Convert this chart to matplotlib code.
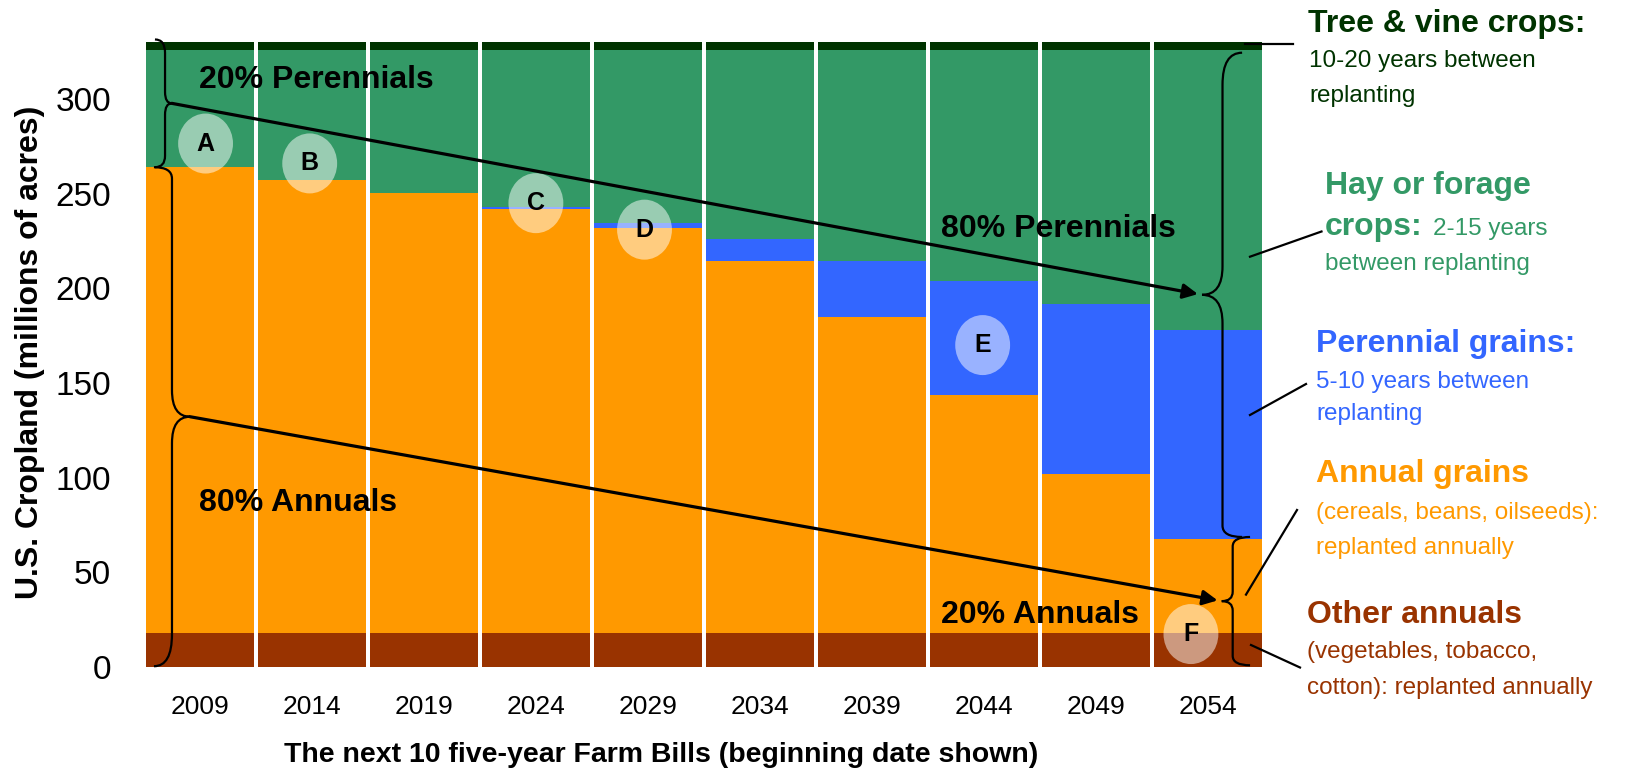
import numpy as np
import matplotlib
matplotlib.use("Agg")
import matplotlib.pyplot as plt
from matplotlib.patches import Ellipse, PathPatch
from matplotlib.path import Path
from matplotlib.lines import Line2D

plt.rcParams['font.family'] = ['Liberation Sans', 'DejaVu Sans']

# ---------------- DATOS (millones de acres) ----------------
years = [2009, 2014, 2019, 2024, 2029, 2034, 2039, 2044, 2049, 2054]
other_annuals = [18, 18, 18, 18, 18, 18, 18, 18, 18, 18]
annual_grains = [246, 239.5, 232.3, 223.7, 213.8, 196.6, 167, 125.4, 84, 49.6]
perennial_grains = [0, 0, 0, 1.1, 2.7, 11.3, 29.6, 60.3, 89.6, 110.4]
hay_forage = [62, 68.5, 75.7, 83.2, 91.5, 100.1, 111.4, 122.3, 134.4, 148]
tree_vine = [4, 4, 4, 4, 4, 4, 4, 4, 4, 4]

series = [other_annuals, annual_grains, perennial_grains, hay_forage, tree_vine]
colors = ['#993300', '#FF9900', '#3366FF', '#339966', '#003300']

# etiquetas en circulos: (letra, barra, valor)
marks = [('A', 0.05, 276.5), ('B', 0.98, 266), ('C', 3.0, 245),
         ('D', 3.97, 231), ('E', 6.99, 170), ('F', 8.85, 17.3)]

W, H = 1626, 768
fig = plt.figure(figsize=(W / 100, H / 100), dpi=100)
ax = fig.add_axes([146 / W, 1 - 666.8 / H, (1261.7 - 146) / W, (666.8 - 42.3) / H])

x = np.arange(len(years))
bottom = np.zeros(len(years))
for vals, c in zip(series, colors):
    ax.bar(x, vals, width=0.9646, bottom=bottom, color=c, edgecolor='none', zorder=1)
    bottom += np.array(vals)

ax.set_xlim(-0.482, 9.482)
ax.set_ylim(0, 330)
ax.set_yticks(range(0, 301, 50))
ax.set_xticks(x)
ax.set_xticklabels([str(y) for y in years])
ax.tick_params(axis='y', length=0, pad=25, labelsize=24)
ax.tick_params(axis='x', length=0, pad=20, labelsize=19)
for s in ax.spines.values():
    s.set_visible(False)


# ---------------- LLAVES ----------------
def llave(x_end, x_mid, x_tip, y_top, y_bot, r_top, r_tip, r_bot):
    y_tip = (y_top + y_bot) / 2
    verts = [(x_end, y_top), (x_mid, y_top), (x_mid, y_top - r_top),
             (x_mid, y_tip + r_tip), (x_mid, y_tip), (x_tip, y_tip),
             (x_mid, y_tip), (x_mid, y_tip - r_tip),
             (x_mid, y_bot + r_bot), (x_mid, y_bot), (x_end, y_bot)]
    codes = [Path.MOVETO, Path.CURVE3, Path.CURVE3, Path.LINETO,
             Path.CURVE3, Path.CURVE3, Path.CURVE3, Path.CURVE3,
             Path.LINETO, Path.CURVE3, Path.CURVE3]
    ax.add_patch(PathPatch(Path(verts, codes), fill=False, lw=1.6,
                           color='black', clip_on=False, zorder=4))
    return x_tip, y_tip


total0 = sum(s[0] for s in series)
ann0 = other_annuals[0] + annual_grains[0]
ann9 = other_annuals[-1] + annual_grains[-1]
per9 = ann9 + perennial_grains[-1] + hay_forage[-1]

t1 = llave(-0.402, -0.312, -0.252, total0 + 1.5, ann0, 7, 6, 6)
t2 = llave(-0.411, -0.250, -0.089, ann0, 0.3, 6, 14, 17)
t3 = llave(9.307, 9.132, 8.949, per9 - 1.5, ann9 + 1, 17, 15, 6)
t4 = llave(9.378, 9.223, 9.125, ann9 + 1, 0.8, 5, 5, 5)

for a, b in [(t1, t3), (t2, t4)]:
    ax.annotate('', xy=b, xytext=a,
                arrowprops=dict(arrowstyle='-|>', lw=2.3, color='black',
                                mutation_scale=22, shrinkA=0, shrinkB=3),
                annotation_clip=False, zorder=5)

# ---------------- CIRCULOS ----------------
for letra, cx, cy in marks:
    ax.add_patch(Ellipse((cx, cy), 0.49, 31.7, facecolor='white', alpha=0.5,
                         edgecolor='none', zorder=3, clip_on=False))
    ax.text(cx, cy, letra, ha='center', va='center', fontsize=18,
            fontweight='bold', zorder=6)

# ---------------- TEXTOS ----------------
def ftxt(px, py, s, **kw):
    fig.text(px / W, 1 - py / H, s, va='baseline', ha='left', **kw)


ftxt(199, 88, '20% Perennials', fontsize=23, fontweight='bold')
ftxt(199, 511, '80% Annuals', fontsize=23, fontweight='bold')
ftxt(941, 237, '80% Perennials', fontsize=23, fontweight='bold')
ftxt(941, 623, '20% Annuals', fontsize=23, fontweight='bold')

fig.text(30 / W, 1 - 352 / H, 'U.S. Cropland (millions of acres)', rotation=90,
         ha='center', va='center', fontsize=23, fontweight='bold')
fig.text(661 / W, 1 - 762 / H, 'The next 10 five-year Farm Bills (beginning date shown)',
         ha='center', va='baseline', fontsize=20.5, fontweight='bold')

big, small = 23, 17.5
ftxt(1308, 32, 'Tree & vine crops:', fontsize=big, fontweight='bold', color='#003300')
ftxt(1309, 67, '10-20 years between', fontsize=small, color='#003300')
ftxt(1309, 102, 'replanting', fontsize=small, color='#003300')

ftxt(1325, 194, 'Hay or forage', fontsize=big, fontweight='bold', color='#339966')
ftxt(1325, 235, 'crops:', fontsize=big, fontweight='bold', color='#339966')
ftxt(1433, 235, '2-15 years', fontsize=small, color='#339966')
ftxt(1325, 270, 'between replanting', fontsize=small, color='#339966')

ftxt(1316, 352, 'Perennial grains:', fontsize=big, fontweight='bold', color='#3366FF')
ftxt(1316, 388, '5-10 years between', fontsize=small, color='#3366FF')
ftxt(1316, 420, 'replanting', fontsize=small, color='#3366FF')

ftxt(1316, 482, 'Annual grains', fontsize=big, fontweight='bold', color='#FF9900')
ftxt(1316, 519, '(cereals, beans, oilseeds):', fontsize=small, color='#FF9900')
ftxt(1316, 554, 'replanted annually', fontsize=small, color='#FF9900')

ftxt(1307, 623, 'Other annuals', fontsize=big, fontweight='bold', color='#993300')
ftxt(1307, 658, '(vegetables, tobacco,', fontsize=small, color='#993300')
ftxt(1307, 694, 'cotton): replanted annually', fontsize=small, color='#993300')

# lineas indicadoras
for (x0, y0), (x1, y1) in [((1245, 43.6), (1293, 43.6)),
                           ((1250, 256.7), (1321.5, 231.5)),
                           ((1250, 415), (1306, 384)),
                           ((1246, 594.6), (1297, 510)),
                           ((1251, 645), (1300, 667.5))]:
    fig.add_artist(Line2D([x0 / W, x1 / W], [1 - y0 / H, 1 - y1 / H],
                          transform=fig.transFigure, color='black', lw=1.6))

fig.savefig('out.png', dpi=100)
